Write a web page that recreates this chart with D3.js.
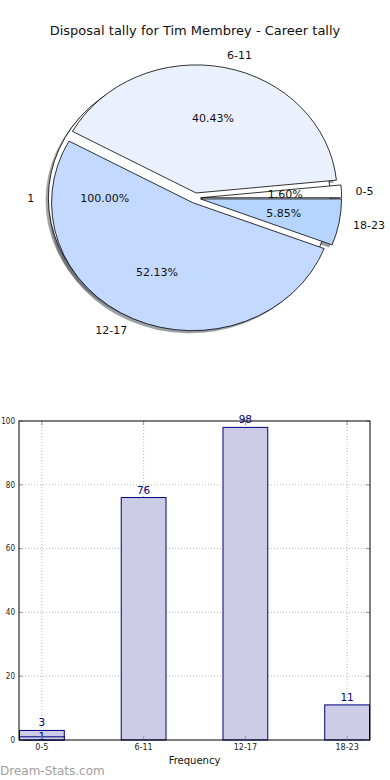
<!DOCTYPE html>
<html><head><meta charset="utf-8">
<script src="https://cdn.jsdelivr.net/npm/d3@7"></script>
<style>body{margin:0;background:#fff}svg{display:block}text{font-family:"DejaVu Sans",sans-serif}</style>
</head><body><div id="c"></div>
<script>
const titleText = "Disposal tally for Tim Membrey - Career tally";
const categories = ["0-5", "6-11", "12-17", "18-23"];
const values = [3, 76, 98, 11];
const sliceColors = ["#ffffff", "#eaf1fd", "#c4d9ff", "#b5d5ff"];
const extraCategories = ["1"];
const extraValues = [1];
const yTicks = [0, 20, 40, 60, 80, 100];
const xLabel = "Frequency";
const watermark = "Dream-Stats.com";

const W = 390, H = 780;
const svg = d3.select("#c").append("svg").attr("width", W).attr("height", H);

svg.append("text").attr("x", 195).attr("y", 35).attr("text-anchor", "middle")
  .attr("font-size", 13).attr("fill", "#111").text(titleText);

// ---------- PIE ----------
const cx = 195, cy = 198, rx = 141, ry = 128, explode = 0.04;
const shOx = -0.02, shOy = -0.02;

function wedges(vals) {
  const s = d3.sum(vals);
  let acc = 0;
  return vals.map((v, i) => {
    const t1 = acc / s * 2 * Math.PI; acc += v;
    const t2 = acc / s * 2 * Math.PI;
    return { i, v, t1, t2, mid: (t1 + t2) / 2, frac: v / s };
  });
}
const arcGen = d3.arc().innerRadius(0).outerRadius(1);
function wedgePath(w) {
  return arcGen({ startAngle: Math.PI / 2 - w.t1, endAngle: Math.PI / 2 - w.t2 });
}
function center(w) {
  return [cx + explode * rx * Math.cos(w.mid), cy - explode * ry * Math.sin(w.mid)];
}
const mainW = wedges(values);
const extraW = wedges(extraValues);

const gPie = svg.append("g");
function shadowColor(c) {
  const r = d3.rgb(c);
  return d3.rgb(r.r * 0.3, r.g * 0.3, r.b * 0.3).toString();
}
extraW.forEach(w => {
  const [x, y] = center(w);
  gPie.append("path").attr("d", wedgePath(w))
    .attr("transform", `translate(${x + shOx * rx},${y - shOy * ry}) scale(${rx},${ry})`)
    .attr("fill", shadowColor("#ffffff")).attr("fill-opacity", 0.5);
});
mainW.forEach(w => {
  const [x, y] = center(w);
  gPie.append("path").attr("d", wedgePath(w))
    .attr("transform", `translate(${x + shOx * rx},${y - shOy * ry}) scale(${rx},${ry})`)
    .attr("fill", shadowColor(sliceColors[w.i])).attr("fill-opacity", 0.5);
});
extraW.forEach(w => {
  const [x, y] = center(w);
  gPie.append("path").attr("d", wedgePath(w))
    .attr("transform", `translate(${x},${y}) scale(${rx},${ry})`)
    .attr("fill", "#ffffff").attr("stroke", "#000").attr("stroke-width", 0.8)
    .attr("vector-effect", "non-scaling-stroke");
});
mainW.forEach(w => {
  const [x, y] = center(w);
  gPie.append("path").attr("d", wedgePath(w))
    .attr("transform", `translate(${x},${y}) scale(${rx},${ry})`)
    .attr("fill", sliceColors[w.i]).attr("stroke", "#000").attr("stroke-width", 0.8)
    .attr("stroke-linejoin", "round")
    .attr("vector-effect", "non-scaling-stroke");
});
function pieLabels(ws, names) {
  ws.forEach(w => {
    const [x, y] = center(w);
    const c = Math.cos(w.mid), s = Math.sin(w.mid);
    const lx = x + 1.1 * rx * c, ly = y - 1.1 * ry * s;
    gPie.append("text").attr("x", lx).attr("y", ly).attr("dy", "0.35em")
      .attr("text-anchor", c < 0 ? "end" : "start").attr("font-size", 11).attr("fill", "#111")
      .text(names[w.i]);
    const px = x + 0.6 * rx * c, py = y - 0.6 * ry * s;
    gPie.append("text").attr("x", px).attr("y", py).attr("dy", "0.35em")
      .attr("text-anchor", "middle").attr("font-size", 11).attr("fill", "#111")
      .text((w.frac * 100).toFixed(2) + "%");
  });
}
pieLabels(extraW, extraCategories);
pieLabels(mainW, categories);

// ---------- BAR ----------
const L = 19, R = 370, T = 421, B = 740, bw = 0.45;
const barFill = "#cccce6", barStroke = "#000080";
const x = d3.scaleLinear().domain([-bw / 2, categories.length - 1 + bw / 2]).range([L, R]);
const y = d3.scaleLinear().domain([0, 100]).range([B, T]);
const gB = svg.append("g");

gB.selectAll(".gx").data(categories).enter().append("line")
  .attr("x1", (d, i) => x(i)).attr("x2", (d, i) => x(i)).attr("y1", T).attr("y2", B)
  .attr("stroke", "#b8b8b8").attr("stroke-dasharray", "1,2").attr("stroke-width", 1);
gB.selectAll(".gy").data(yTicks.slice(1, -1)).enter().append("line")
  .attr("x1", L).attr("x2", R).attr("y1", d => y(d)).attr("y2", d => y(d))
  .attr("stroke", "#b8b8b8").attr("stroke-dasharray", "1,2").attr("stroke-width", 1);

const bars = values.map((v, i) => ({ v, i }));
const extraBars = extraValues.map((v, i) => ({ v, i }));
[bars, extraBars].forEach(set => {
  gB.append("g").selectAll("rect").data(set).enter().append("rect")
    .attr("x", d => x(d.i - bw / 2) + 0.5).attr("width", d => x(bw) - x(0) - 1)
    .attr("y", d => y(d.v)).attr("height", d => B - y(d.v))
    .attr("fill", barFill).attr("stroke", barStroke).attr("stroke-width", 1);
});

gB.selectAll(".bl").data(bars).enter().append("text")
  .attr("x", d => x(d.i)).attr("y", d => y(d.v) - 4).attr("text-anchor", "middle")
  .attr("font-size", 10.5).attr("fill", barStroke).text(d => d.v);
gB.selectAll(".bl2").data(extraBars).enter().append("text")
  .attr("x", d => x(d.i)).attr("y", d => y(d.v)).attr("dy", "0.35em").attr("text-anchor", "middle")
  .attr("font-size", 10.5).attr("fill", barStroke).text(d => d.v);

gB.selectAll(".yt").data(yTicks).enter().append("line")
  .attr("x1", L).attr("x2", L + 4).attr("y1", d => y(d)).attr("y2", d => y(d)).attr("stroke", "#999");
gB.selectAll(".yt2").data(yTicks).enter().append("line")
  .attr("x1", R - 4).attr("x2", R).attr("y1", d => y(d)).attr("y2", d => y(d)).attr("stroke", "#999");
gB.selectAll(".xt").data(categories).enter().append("line")
  .attr("x1", (d, i) => x(i)).attr("x2", (d, i) => x(i)).attr("y1", B).attr("y2", B - 4).attr("stroke", "#999");
gB.selectAll(".xt2").data(categories).enter().append("line")
  .attr("x1", (d, i) => x(i)).attr("x2", (d, i) => x(i)).attr("y1", T).attr("y2", T + 4).attr("stroke", "#999");

gB.append("rect").attr("x", L).attr("y", T).attr("width", R - L).attr("height", B - T)
  .attr("fill", "none").attr("stroke", "#000").attr("stroke-width", 1);

gB.selectAll(".yl").data(yTicks).enter().append("text")
  .attr("x", L - 4).attr("y", d => y(d)).attr("dy", "0.35em").attr("text-anchor", "end")
  .attr("font-size", 8).attr("fill", "#222").attr("textLength", d => String(d).length * 4.6)
  .attr("lengthAdjust", "spacingAndGlyphs").text(d => d);
gB.selectAll(".xl").data(categories).enter().append("text")
  .attr("x", (d, i) => x(i)).attr("y", B + 10).attr("text-anchor", "middle")
  .attr("font-size", 8).attr("fill", "#222").text(d => d);

svg.append("text").attr("x", (L + R) / 2).attr("y", 764).attr("text-anchor", "middle")
  .attr("font-size", 10).attr("fill", "#111").text(xLabel);
svg.append("text").attr("x", 0).attr("y", 775).attr("font-size", 12)
  .attr("fill", "#a0a0a0").text(watermark);
</script></body></html>
